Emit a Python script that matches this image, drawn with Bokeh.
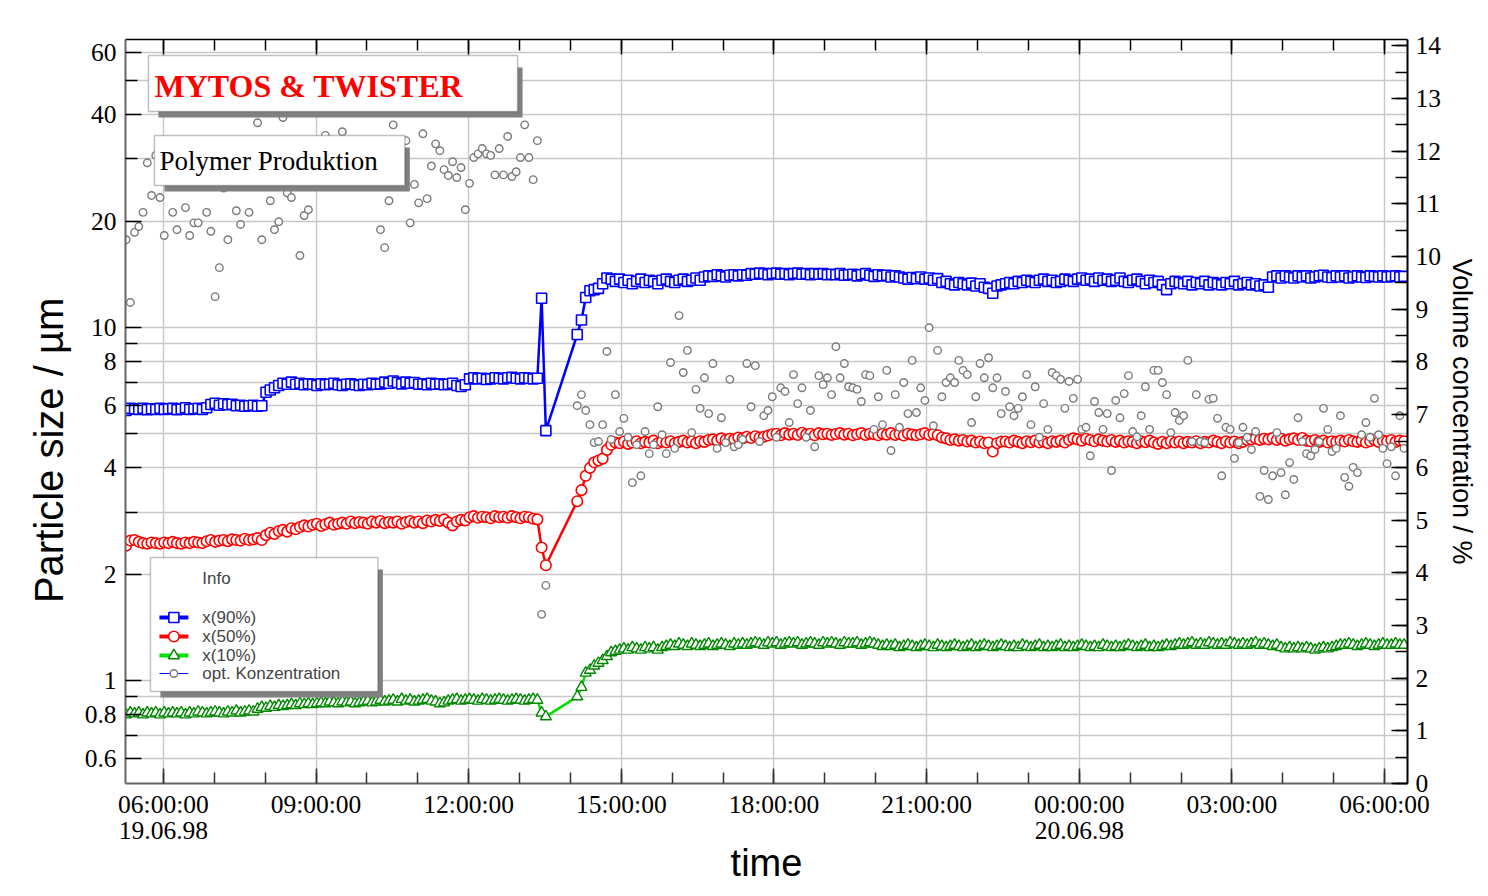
import numpy as np
import pandas as pd
from bokeh.plotting import figure
from bokeh.models import (Range1d, LinearAxis, LinearScale, FixedTicker,
                          BoxAnnotation, Label)
from bokeh.embed import file_html
from bokeh.resources import INLINE

# ---------------- data ----------------
seg1_start = "1998-06-19 05:16"   # first run, 5-min samples
seg2_start = "1998-06-19 14:08"   # second run, 5-min samples

x90_seg1 = [5.82,
    5.9, 5.88, 5.86, 5.9, 5.85, 5.88, 5.86, 5.9,
    5.86, 5.88, 5.9, 5.85, 5.87, 5.92, 5.86, 5.88, 5.9, 5.86, 5.92,
    6.05, 6.1, 6.02, 6.08, 6.04, 6.06,
    6.0, 6.02, 5.98, 6.0, 6.02, 5.98, 6.0,
    6.55, 6.65, 6.75, 6.85, 6.95, 6.9, 7.0,
    6.9, 6.95, 6.88, 6.92, 6.9, 6.85, 6.92, 6.88, 6.9, 6.95, 6.88, 6.85, 6.9, 6.92, 6.88,
    6.85, 6.9, 6.88, 6.95, 6.9, 6.92,
    7.0, 6.95, 7.05, 6.98, 6.92, 7.0, 6.95, 6.98,
    6.9, 6.92, 6.88, 6.95, 6.9, 6.92, 6.88, 6.9, 6.95, 6.85, 6.8, 6.88,
    7.15, 7.2, 7.15, 7.18, 7.12, 7.15, 7.2, 7.18, 7.15, 7.2, 7.22, 7.18, 7.15, 7.2, 7.18, 7.15, 7.18,
    12.1, 5.1]
x90_seg2 = [9.55, 10.5, 12.15, 12.7, 12.8, 12.9, 13.3, 13.8, 13.7,
    13.5, 13.7, 13.4, 13.6, 13.3, 13.5, 13.7, 13.4, 13.6, 13.5, 13.3, 13.6, 13.7, 13.5, 13.4, 13.6, 13.7, 13.5, 13.6, 13.8, 13.6,
    13.9, 14.0, 13.95, 14.1, 14.0, 13.9, 14.05, 14.1, 14.0, 14.1, 14.05,
    14.2, 14.15, 14.25, 14.2, 14.1, 14.2, 14.25, 14.15, 14.2, 14.1, 14.2, 14.25, 14.15, 14.2, 14.1, 14.2, 14.15, 14.2, 14.1, 14.15,
    14.1, 14.2, 14.05, 14.1, 14.15, 14.0, 14.1, 14.2, 14.05, 13.95, 14.1, 14.0, 14.05, 13.9, 14.0,
    13.9, 13.8, 13.7, 13.85, 13.75, 13.9, 13.7, 13.8, 13.6, 13.75,
    13.4, 13.5, 13.3, 13.2, 13.4, 13.3, 13.2, 13.35, 13.1, 13.3,
    13.0, 12.9, 12.5, 13.1, 13.2,
    13.3, 13.4, 13.3, 13.5, 13.4, 13.6, 13.5, 13.4, 13.6, 13.7, 13.5, 13.6, 13.4, 13.5, 13.7, 13.6, 13.5, 13.7,
    13.8, 13.6, 13.7, 13.5, 13.8, 13.6, 13.7, 13.5, 13.6, 13.8, 13.5, 13.4, 13.6, 13.7, 13.5, 13.3, 13.6, 13.4, 13.5, 13.2, 12.8, 13.3, 13.5, 13.4,
    13.3, 13.5, 13.2, 13.4, 13.3, 13.5, 13.2, 13.4, 13.3, 13.2, 13.4, 13.3, 13.5, 13.2, 13.3, 13.4, 13.2, 13.3, 13.1, 13.2,
    13.0, 13.9, 14.0, 13.8, 14.0, 13.9, 13.8, 14.0, 13.9, 14.0, 13.8, 13.9, 14.0, 14.05, 13.9, 13.85, 14.0, 13.9, 14.0, 13.8,
    13.9, 14.0, 13.9, 13.85, 14.0, 13.95, 13.9, 14.0, 13.9, 13.95, 14.0, 13.9, 13.95]

x50_seg1 = [2.41,
    2.49, 2.5, 2.47,
    2.45, 2.44, 2.46, 2.45, 2.44, 2.46, 2.45, 2.47, 2.45, 2.44, 2.46, 2.45, 2.47, 2.46, 2.45,
    2.48, 2.5, 2.47, 2.49, 2.5, 2.48, 2.51, 2.5, 2.49, 2.52, 2.5, 2.51, 2.53, 2.5,
    2.58, 2.62, 2.6, 2.65, 2.67, 2.64, 2.7, 2.68,
    2.72, 2.75, 2.73, 2.76, 2.78, 2.74, 2.77, 2.8, 2.76, 2.78,
    2.8, 2.78, 2.82, 2.79, 2.81, 2.8, 2.78, 2.82, 2.8, 2.83, 2.79, 2.81, 2.8, 2.82, 2.78, 2.81, 2.83, 2.8, 2.82, 2.79,
    2.84, 2.82, 2.85, 2.83, 2.86, 2.8, 2.75, 2.82, 2.85, 2.84,
    2.9, 2.92, 2.89, 2.91, 2.9, 2.88, 2.92, 2.9, 2.91, 2.89, 2.92, 2.9, 2.88, 2.91, 2.9, 2.87, 2.86,
    2.38, 2.12]
x50_seg2 = [3.22, 3.46, 3.8, 4.0, 4.15, 4.2, 4.25, 4.5, 4.65,
    4.72, 4.7, 4.75, 4.68, 4.72, 4.76, 4.7, 4.74, 4.72, 4.78, 4.7, 4.75, 4.72, 4.76, 4.7, 4.74, 4.78, 4.72, 4.75, 4.7, 4.76, 4.74,
    4.8, 4.82, 4.78, 4.85, 4.8, 4.84, 4.82, 4.88, 4.85, 4.9, 4.86, 4.92, 4.88, 4.9, 4.94,
    4.98, 5.0, 4.95, 5.02, 4.97, 5.0, 4.96, 5.03, 4.98, 5.0, 4.95, 5.02, 4.98, 5.0, 4.96, 4.99, 5.02, 4.97, 5.0, 4.95,
    4.98, 5.02, 4.96, 5.0, 4.98, 4.95, 5.0, 4.97, 5.02, 4.96, 4.99, 4.94, 5.0, 4.97, 4.95, 4.98, 5.02, 4.96, 4.99, 4.95,
    4.88, 4.85, 4.8, 4.82, 4.78, 4.8, 4.75, 4.78, 4.72, 4.75, 4.7, 4.72, 4.45, 4.7, 4.75,
    4.75, 4.72, 4.78, 4.74, 4.7, 4.76, 4.73, 4.78, 4.72, 4.75,
    4.7, 4.76, 4.74, 4.78, 4.72, 4.8, 4.85, 4.82, 4.78, 4.84,
    4.8, 4.76, 4.82, 4.78, 4.75, 4.8, 4.74, 4.78, 4.72, 4.76,
    4.74, 4.7, 4.76, 4.73, 4.78, 4.72, 4.68, 4.74, 4.7, 4.76,
    4.72, 4.75, 4.7, 4.74, 4.72, 4.76, 4.7, 4.74, 4.72, 4.78,
    4.74, 4.7, 4.76, 4.72, 4.75, 4.7, 4.74, 4.8, 4.82, 4.85,
    4.8, 4.84, 4.82, 4.86, 4.8, 4.84, 4.78, 4.82, 4.85, 4.8,
    4.86, 4.78, 4.76, 4.8, 4.74, 4.78, 4.72, 4.76, 4.74, 4.78,
    4.75, 4.8, 4.76, 4.74, 4.78, 4.72, 4.76, 4.8, 4.74, 4.78,
    4.76, 4.8, 4.74, 4.78, 4.76]

x10_seg1 = [0.8, 0.81, 0.805, 0.81, 0.8, 0.81, 0.805, 0.81, 0.8, 0.81, 0.805, 0.81, 0.805, 0.81, 0.8, 0.81,
    0.805, 0.815, 0.81, 0.805, 0.81, 0.815, 0.81, 0.805, 0.815, 0.81, 0.82, 0.81, 0.815, 0.82, 0.815,
    0.83, 0.84, 0.835, 0.845, 0.84, 0.85, 0.845, 0.85, 0.855, 0.85, 0.86, 0.855, 0.86, 0.855, 0.86,
    0.865, 0.86, 0.87, 0.865, 0.86, 0.87, 0.865, 0.87, 0.86, 0.865, 0.87, 0.875, 0.865, 0.87, 0.88, 0.87,
    0.875, 0.88, 0.87, 0.885, 0.875, 0.88, 0.87, 0.875, 0.88, 0.885, 0.875, 0.87, 0.86, 0.865, 0.875, 0.88,
    0.885, 0.875, 0.88, 0.885, 0.88, 0.875, 0.885, 0.88, 0.875, 0.88, 0.885, 0.88, 0.875, 0.88, 0.885, 0.88,
    0.875, 0.88, 0.885, 0.88,
    0.81, 0.79]
x10_seg2 = [0.9, 0.957, 1.05, 1.07, 1.1, 1.12, 1.14, 1.17, 1.2, 1.21,
    1.22, 1.23, 1.22, 1.24, 1.23, 1.22, 1.24, 1.23, 1.24, 1.22, 1.24,
    1.25, 1.26, 1.25, 1.27, 1.26, 1.25, 1.27, 1.26, 1.25, 1.26, 1.27, 1.25, 1.26, 1.27, 1.26, 1.25, 1.27, 1.26, 1.27, 1.26,
    1.27, 1.28, 1.27, 1.26, 1.28, 1.27, 1.28, 1.26, 1.27, 1.28, 1.27, 1.28, 1.26, 1.27, 1.28,
    1.27, 1.26, 1.28, 1.27, 1.28, 1.27, 1.26, 1.28, 1.27, 1.27, 1.28, 1.26, 1.27, 1.28, 1.27,
    1.26, 1.25, 1.26, 1.25, 1.26, 1.24, 1.25, 1.26, 1.25, 1.24, 1.25, 1.26, 1.25, 1.24, 1.26,
    1.25, 1.24, 1.25, 1.26, 1.25, 1.24, 1.25, 1.26, 1.24, 1.25, 1.26, 1.25, 1.24, 1.25, 1.26,
    1.25, 1.24, 1.25, 1.24, 1.26, 1.25, 1.24, 1.25, 1.26, 1.24, 1.25, 1.24, 1.25, 1.26, 1.24, 1.25, 1.24, 1.25, 1.26, 1.25,
    1.24, 1.25, 1.24, 1.26, 1.25, 1.24, 1.25, 1.24, 1.25, 1.26, 1.25, 1.24, 1.25, 1.26, 1.24, 1.25, 1.24, 1.25, 1.26, 1.25,
    1.26, 1.27, 1.26, 1.27, 1.28, 1.26, 1.27, 1.26, 1.28, 1.27, 1.26, 1.27, 1.26, 1.28, 1.27, 1.26, 1.27, 1.26, 1.27, 1.28,
    1.26, 1.27, 1.26, 1.25, 1.26,
    1.24, 1.23, 1.24, 1.23, 1.24, 1.23, 1.24, 1.23, 1.22, 1.23, 1.24, 1.23, 1.24, 1.25, 1.26,
    1.26, 1.27, 1.26, 1.25, 1.26, 1.27, 1.26, 1.25, 1.26, 1.27, 1.26, 1.26, 1.27, 1.26, 1.26]

conc_seg1 = [10.32, 9.13, 10.46, 10.57, 10.84, 11.78, 11.16, 11.92, 11.12, 10.40,
    11.7, 10.84, 10.51, 11.4, 10.93, 10.40, 10.64, 10.64, 11.8, 10.84,
    10.48, 9.24, 9.79, 11.3, 10.32, 11.6, 10.87, 10.61, 11.9, 10.84,
    12.0, 12.54, 10.32, 11.5, 11.06, 10.51, 10.66, 12.64, 11.21, 11.12,
    11.8, 10.02, 10.78, 10.89, 11.9, 12.1, 11.6, 12.30, 11.7, 12.0,
    11.5, 12.37, 11.8, 11.4, 12.0, 11.6, 11.9, 12.1, 11.7, 11.5,
    10.51, 10.17, 11.06, 12.50, 11.9, 11.6, 12.20, 10.64, 11.37, 11.02,
    12.33, 11.10, 11.72, 12.14, 12.01, 11.65, 11.54, 11.8, 11.50, 11.69,
    10.89, 11.39, 11.88, 11.95, 12.05, 11.95, 11.92, 11.55, 12.05, 11.55,
    12.28, 11.52, 11.61, 11.88, 12.50, 11.88, 11.46, 12.20, 3.21, 3.76]
conc_seg2 = [7.17, 7.38, 7.08, 6.81, 6.47, 6.49, 6.81, 8.20, 6.53, 7.38,
    6.68, 6.93, 6.57, 5.71, 6.43, 5.84, 6.68, 6.26, 6.43, 7.15,
    6.62, 6.26, 7.99, 6.36, 8.88, 7.80, 8.22, 6.66, 7.48, 7.12,
    7.70, 7.02, 7.97, 6.36, 6.94, 6.47, 7.67, 6.39, 6.43, 6.53,
    7.97, 7.15, 7.93, 6.49, 6.98, 7.08, 7.34, 6.57, 7.51, 7.44,
    6.85, 7.76, 7.21, 7.51, 6.57, 7.08, 6.39, 7.74, 7.57, 7.70,
    7.38, 8.29, 7.70, 7.97, 7.53, 7.51, 7.48, 7.25, 7.76, 7.74,
    6.72, 7.34, 6.81, 7.84, 6.32, 7.38, 6.76, 7.61, 7.02, 8.03,
    7.04, 7.51, 7.27, 8.65, 6.79, 8.22, 7.34, 7.61, 7.70, 7.61,
    8.03, 7.84, 7.76, 6.85, 7.34, 7.97, 7.70, 8.08, 7.51, 7.70,
    7.02, 7.44, 7.15, 6.98, 7.12, 7.34, 7.76, 6.81, 7.53,
    6.57, 7.21, 6.72, 7.80, 7.74, 7.67, 7.12, 7.63, 7.31, 7.67,
    6.72, 6.76, 6.22, 7.25, 7.04, 6.72, 7.02, 5.94, 7.27, 6.94,
    7.40, 7.74, 6.68, 6.58, 6.98, 7.53, 6.72, 7.84, 7.84, 7.61,
    7.38, 6.66, 7.04, 6.89, 6.98, 8.03, 6.49, 7.38, 6.49, 6.47,
    7.29, 7.31, 6.93, 5.84, 6.76, 6.72, 6.17, 6.47, 6.76, 6.57,
    6.34, 6.68, 5.45, 5.94, 5.39, 5.84, 6.66, 5.90, 5.48, 6.09,
    5.77, 6.94, 6.49, 6.26, 6.22, 6.34, 6.49, 7.12, 6.72, 6.30,
    6.36, 6.98, 5.81, 5.64, 6.00, 5.90, 6.62, 6.85, 6.57, 7.31,
    6.62, 6.36, 6.07, 6.39, 5.84, 6.98, 6.36]

x_tick_values = [6, 9, 12, 15, 18, 21, 24, 27, 30]
x_tick_labels = ["06:00:00", "09:00:00", "12:00:00", "15:00:00", "18:00:00",
                 "21:00:00", "00:00:00", "03:00:00", "06:00:00"]
date_tick_values = [6, 24]
date_tick_labels = ["19.06.98", "20.06.98"]
x_minor_ticks = list(range(5, 31))
y_tick_values = [0.6, 0.8, 1, 2, 4, 6, 8, 10, 20, 40, 60]
y_tick_labels = ["0.6", "0.8", "1", "2", "4", "6", "8", "10", "20", "40", "60"]
y_minor_ticks = [0.5, 0.7, 0.9, 3, 5, 7, 9, 30, 50]
conc_tick_values = list(range(0, 15))
conc_minor_ticks = [i / 2 for i in range(0, 29)]

legend_labels = ["x(90%)", "x(50%)", "x(10%)", "opt. Konzentration"]

# ---------------- helpers ----------------
origin = pd.Timestamp("1998-06-19 00:00")


def hours(start, n):
    t = pd.date_range(start, periods=n, freq="5min")
    return ((t - origin) / pd.Timedelta(hours=1)).to_numpy()


def series_time(seg1, seg2):
    return np.concatenate([hours(seg1_start, len(seg1)), hours(seg2_start, len(seg2))])


XR = (5.255, 30.451)
YR = (0.5107, 65.4)
CR = (0.0, 14.12)
FL, FR, FT, FB = 125, 1410, 39, 783     # frame edges in pixels


def hx(px):
    return XR[0] + (px - FL) * (XR[1] - XR[0]) / (FR - FL)


def cy(py):
    return CR[0] + (FB - py) * (CR[1] - CR[0]) / (FB - FT)


# ---------------- figure ----------------
W, H = 1480, 888
p = figure(width=W, height=H, output_backend="svg", toolbar_location=None,
           y_axis_type="log", x_range=Range1d(*XR), y_range=Range1d(*YR),
           min_border_left=FL, min_border_right=W - FR,
           min_border_top=FT, min_border_bottom=H - FB)
p.extra_y_ranges = {"conc": Range1d(*CR)}
p.extra_y_scales = {"conc": LinearScale()}
p.outline_line_color = None
p.background_fill_color = "white"
p.border_fill_color = "white"

SERIF = "Liberation Serif"
SANS = "Liberation Sans"

# bottom axis
xa = p.xaxis[0]
xa.ticker = FixedTicker(ticks=x_tick_values, minor_ticks=x_minor_ticks)
xa.major_label_overrides = dict(zip(x_tick_values, x_tick_labels))
xa.major_label_text_font = SERIF
xa.major_label_text_font_size = "25.5px"
xa.major_label_text_color = "black"
xa.major_label_standoff = 6
xa.major_tick_in, xa.major_tick_out = 15, 0
xa.minor_tick_in, xa.minor_tick_out = 11, 0
xa.axis_line_color = "#666666"
xa.axis_line_width = 2
xa.major_tick_line_color = "#333333"
xa.minor_tick_line_color = "#333333"
xa.major_tick_line_width = 1.5
xa.minor_tick_line_width = 1.5

# second bottom axis: dates and the axis title
da = LinearAxis(ticker=FixedTicker(ticks=date_tick_values, minor_ticks=[]),
                major_label_overrides=dict(zip(date_tick_values, date_tick_labels)),
                major_label_text_font=SERIF, major_label_text_font_size="25.5px",
                major_label_text_color="black", major_label_standoff=0,
                major_tick_in=0, major_tick_out=0, minor_tick_in=0, minor_tick_out=0,
                axis_line_color=None, major_tick_line_color=None, minor_tick_line_color=None,
                axis_label="time", axis_label_standoff=0,
                axis_label_text_font=SANS, axis_label_text_font_size="38px",
                axis_label_text_font_style="normal", axis_label_text_color="black")
p.add_layout(da, "below")

# top axis (ticks only)
ta = LinearAxis(ticker=FixedTicker(ticks=x_tick_values, minor_ticks=x_minor_ticks),
                major_label_overrides={v: "" for v in x_tick_values},
                major_tick_in=15, major_tick_out=0, minor_tick_in=11, minor_tick_out=0,
                axis_line_color="black", axis_line_width=1.5,
                major_tick_line_width=1.5, minor_tick_line_width=1.5,
                major_label_text_font_size="1px")
p.add_layout(ta, "above")

# left log axis
ya = p.yaxis[0]
ya.ticker = FixedTicker(ticks=y_tick_values, minor_ticks=y_minor_ticks)
ya.major_label_overrides = dict(zip(y_tick_values, y_tick_labels))
ya.major_label_text_font = SERIF
ya.major_label_text_font_size = "25.5px"
ya.major_label_text_color = "black"
ya.major_label_standoff = 9
ya.major_tick_in, ya.major_tick_out = 16, 0
ya.minor_tick_in, ya.minor_tick_out = 12, 0
ya.axis_line_color = "#666666"
ya.axis_line_width = 2
ya.major_tick_line_color = "black"
ya.minor_tick_line_color = "black"
ya.major_tick_line_width = 1.5
ya.minor_tick_line_width = 1.5
ya.axis_label = "Particle size / µm" + "\u00a0" * 7
ya.axis_label_standoff = 11
ya.axis_label_text_font = SANS
ya.axis_label_text_font_size = "40px"
ya.axis_label_text_font_style = "normal"
ya.axis_label_text_color = "black"

# right concentration axis
ra = LinearAxis(y_range_name="conc",
                ticker=FixedTicker(ticks=conc_tick_values, minor_ticks=conc_minor_ticks),
                major_label_text_font=SERIF, major_label_text_font_size="25.5px",
                major_label_text_color="black", major_label_standoff=8,
                major_tick_in=16, major_tick_out=0, minor_tick_in=12, minor_tick_out=0,
                axis_line_color="black", axis_line_width=2,
                major_tick_line_width=1.5, minor_tick_line_width=1.5,
                axis_label="Volume concentration / %", axis_label_standoff=3,
                axis_label_text_font=SANS, axis_label_text_font_size="27px",
                axis_label_text_font_style="normal", axis_label_text_color="black")
p.add_layout(ra, "right")

# grids
p.xgrid.grid_line_color = "#c8c8c8"
p.xgrid.grid_line_width = 1.4
p.ygrid.grid_line_color = "#c8c8c8"
p.ygrid.grid_line_width = 1.4
p.ygrid.minor_grid_line_color = "#c8c8c8"
p.ygrid.minor_grid_line_width = 1.4

# ---------------- data glyphs ----------------
t90 = series_time(x90_seg1, x90_seg2)
t50 = series_time(x50_seg1, x50_seg2)
t10 = series_time(x10_seg1, x10_seg2)
tc = series_time(conc_seg1, conc_seg2)
x90 = x90_seg1 + x90_seg2
x50 = x50_seg1 + x50_seg2
x10 = x10_seg1 + x10_seg2
conc = conc_seg1 + conc_seg2

BLUE, RED, GREEN_L, GREEN_M, GRAY = "#0000ff", "#ff0000", "#00e000", "#008800", "#7a7a7a"

p.line(t90, x90, line_color=BLUE, line_width=2.5)
p.scatter(t90, x90, marker="square", size=10, line_color=BLUE, fill_color="white", line_width=1.6)
p.line(t50, x50, line_color=RED, line_width=2.5)
p.scatter(t50, x50, marker="circle", size=10.5, line_color=RED, fill_color="white", line_width=1.6)
p.line(t10, x10, line_color=GREEN_L, line_width=2.5)
p.scatter(t10, x10, marker="triangle", size=11, line_color=GREEN_M, fill_color="white", line_width=1.4)
p.scatter(tc, conc, marker="circle", size=7.5, line_color=GRAY, fill_color="white",
          line_width=1.4, y_range_name="conc")


# ---------------- boxes, legend, titles ----------------
def box(l, t, r, b, shadow=True):
    if shadow:
        p.add_layout(BoxAnnotation(left=hx(l + 10), right=hx(r + 5), top=cy(t + 12), bottom=cy(b + 6),
                                   y_range_name="conc", fill_color="#808080", fill_alpha=1,
                                   line_color=None))
    p.add_layout(BoxAnnotation(left=hx(l), right=hx(r), top=cy(t), bottom=cy(b),
                               y_range_name="conc", fill_color="white", fill_alpha=1,
                               line_color="#333333", line_width=1.5))


box(148, 55, 518, 111)
p.add_layout(Label(x=hx(154), y=cy(85.5), text="MYTOS & TWISTER", y_range_name="conc",
                   text_font=SERIF, text_font_size="32px", text_font_style="bold",
                   text_color="red", text_baseline="middle"))
box(154, 135, 405, 185)
p.add_layout(Label(x=hx(159), y=cy(160), text="Polymer Produktion", y_range_name="conc",
                   text_font=SERIF, text_font_size="27px", text_color="black",
                   text_baseline="middle"))

box(150, 557, 378, 691)
p.add_layout(Label(x=hx(202), y=cy(578), text="Info", y_range_name="conc",
                   text_font=SANS, text_font_size="17px", text_baseline="middle"))
leg_y = [617, 636, 655, 673]
leg_line = [(BLUE, 4), (RED, 4), (GREEN_L, 4), (BLUE, 1)]
leg_mark = [("square", 10, BLUE, 1.6), ("circle", 10.5, RED, 1.6),
            ("triangle", 11, GREEN_M, 1.4), ("circle", 7.5, GRAY, 1.4)]
for lab, yy, (lc, lw), (mk, ms, mc, mw) in zip(legend_labels, leg_y, leg_line, leg_mark):
    p.line([hx(159), hx(188)], [cy(yy), cy(yy)], y_range_name="conc",
           line_color=lc, line_width=lw, level="overlay")
    p.scatter([hx(173.5)], [cy(yy)], y_range_name="conc", marker=mk, size=ms,
              line_color=mc, fill_color="white", line_width=mw, level="overlay")
    p.add_layout(Label(x=hx(202), y=cy(yy), text=lab, y_range_name="conc",
                       text_font=SANS, text_font_size="17px", text_baseline="middle",
                       level="overlay"))

open("out.html", "w").write(file_html(p, INLINE))
